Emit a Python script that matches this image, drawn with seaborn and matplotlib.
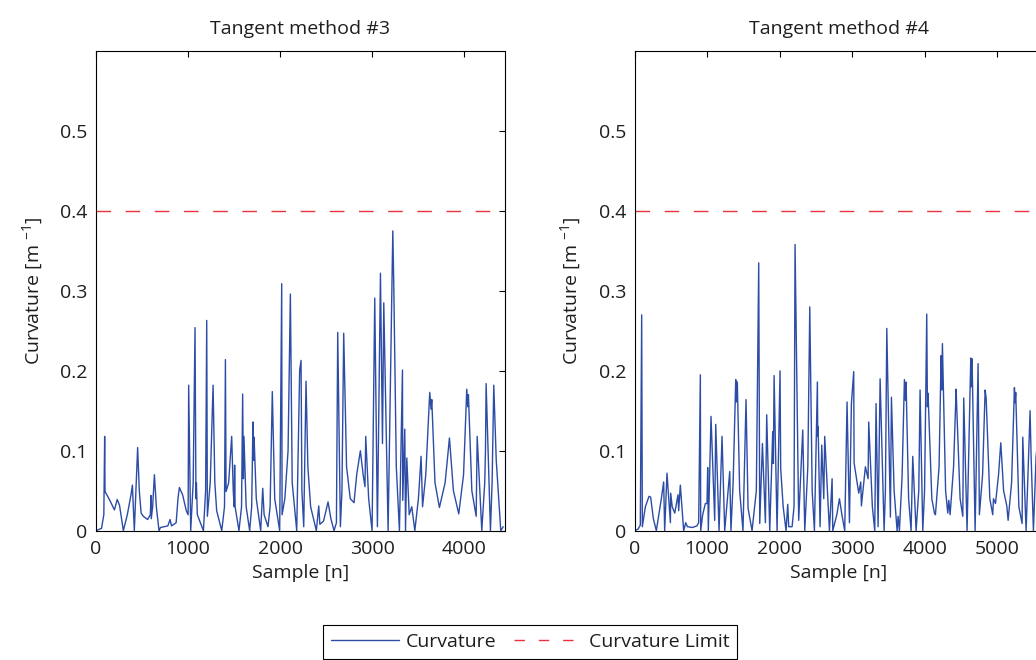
import matplotlib
matplotlib.use("Agg")
import matplotlib.pyplot as plt
from matplotlib.lines import Line2D
import numpy as np
import pandas as pd
import seaborn as sns

# ---------------- data ----------------
titles = ["Tangent method #3", "Tangent method #4"]
legend_labels = ["Curvature", "Curvature Limit"]
curvature_limit = 0.4
y_ticks = [0, 0.1, 0.2, 0.3, 0.4, 0.5]
x_limits = [4440, 5640]

m3_sample = [0, 60, 85, 94, 98, 150, 200, 230, 255, 297, 340, 380, 395, 416, 430, 452, 470, 490, 514, 560,
             590, 597, 600, 615, 634, 655, 684, 700, 780, 804, 820, 870, 890, 905, 940, 980, 1000, 1006, 1028,
             1055, 1075, 1085, 1090, 1100, 1166, 1190, 1202, 1209, 1240, 1271, 1290, 1310, 1365, 1395, 1405,
             1412, 1440, 1473, 1490, 1500, 1505, 1510, 1552, 1580, 1592, 1600, 1606, 1630, 1668, 1690, 1704,
             1710, 1716, 1740, 1788, 1810, 1825, 1867, 1890, 1914, 1940, 1994, 2016, 2020, 2050, 2085, 2110,
             2130, 2179, 2211, 2226, 2235, 2255, 2280, 2300, 2330, 2392, 2418, 2430, 2470, 2519, 2550, 2584,
             2610, 2624, 2653, 2670, 2689, 2720, 2760, 2801, 2830, 2870, 2900, 2920, 2928, 2960, 2997, 3026,
             3055, 3088, 3110, 3124, 3171, 3222, 3232, 3260, 3294, 3327, 3330, 3352, 3360, 3374, 3400, 3428,
             3461, 3500, 3529, 3545, 3580, 3623, 3637, 3645, 3680, 3728, 3790, 3837, 3880, 3938, 3990, 4025,
             4036, 4043, 4080, 4127, 4138, 4188, 4220, 4228, 4235, 4282, 4300, 4318, 4345, 4394, 4420]
m3_curv = [0, 0.003, 0.02, 0.118, 0.049, 0.038, 0.026, 0.039, 0.032, 0, 0.02, 0.045, 0.057, 0, 0.04, 0.104,
           0.05, 0.022, 0.018, 0.014, 0.02, 0.044, 0.015, 0.03, 0.07, 0.03, 0, 0.004, 0.006, 0.014, 0.006,
           0.01, 0.04, 0.054, 0.045, 0.025, 0.02, 0.182, 0, 0.06, 0.254, 0.04, 0.06, 0.02, 0, 0.05, 0.263,
           0.018, 0.06, 0.182, 0.06, 0.025, 0, 0.03, 0.214, 0.049, 0.06, 0.118, 0.05, 0.03, 0.082, 0.03, 0,
           0.03, 0.171, 0.065, 0.118, 0.03, 0, 0.03, 0.136, 0.088, 0.117, 0.04, 0, 0.053, 0.02, 0.005, 0.03,
           0.174, 0.04, 0, 0.309, 0.02, 0.04, 0.1, 0.296, 0.06, 0, 0.201, 0.213, 0.05, 0.005, 0.187, 0.08,
           0.03, 0, 0.031, 0.008, 0.012, 0.036, 0.015, 0, 0.01, 0.248, 0.005, 0.05, 0.247, 0.08, 0.04, 0.035,
           0.07, 0.1, 0.07, 0.055, 0.118, 0.04, 0, 0.291, 0.005, 0.322, 0.109, 0.285, 0, 0.375, 0.312, 0.08,
           0, 0.201, 0.038, 0.127, 0, 0.091, 0.02, 0.03, 0, 0.04, 0.093, 0.03, 0.07, 0.173, 0.152, 0.164,
           0.06, 0.029, 0.06, 0.116, 0.05, 0.021, 0.07, 0.177, 0.155, 0.17, 0.05, 0.018, 0.118, 0, 0.06, 0.1,
           0.184, 0, 0.06, 0.182, 0.088, 0, 0.005]

m4_sample = [0, 50, 80, 99, 108, 150, 200, 223, 260, 301, 370, 402, 416, 448, 480, 495, 499, 520, 555, 600,
             609, 632, 678, 706, 730, 800, 860, 885, 908, 913, 940, 977, 1000, 1009, 1018, 1055, 1106, 1120,
             1166, 1207, 1244, 1313, 1330, 1360, 1396, 1405, 1418, 1450, 1496, 1538, 1566, 1621, 1680, 1713,
             1727, 1764, 1805, 1823, 1865, 1906, 1915, 1925, 1966, 2007, 2016, 2050, 2090, 2113, 2127, 2173,
             2200, 2214, 2264, 2320, 2348, 2390, 2417, 2450, 2481, 2522, 2527, 2532, 2559, 2582, 2610, 2623,
             2688, 2725, 2734, 2790, 2826, 2860, 2899, 2931, 2964, 2991, 3023, 3028, 3092, 3120, 3129, 3184,
             3221, 3230, 3280, 3313, 3331, 3359, 3387, 3442, 3460, 3479, 3529, 3543, 3580, 3621, 3635, 3653,
             3690, 3722, 3736, 3745, 3780, 3814, 3837, 3883, 3920, 3938, 3975, 4000, 4030, 4039, 4048, 4100,
             4136, 4150, 4200, 4228, 4237, 4246, 4290, 4320, 4334, 4352, 4400, 4435, 4444, 4490, 4527, 4540,
             4586, 4637, 4646, 4655, 4697, 4738, 4756, 4800, 4835, 4849, 4900, 4940, 4950, 4978, 5020, 5051,
             5090, 5134, 5152, 5200, 5239, 5248, 5257, 5300, 5345, 5354, 5400, 5455, 5469, 5501, 5538, 5570,
             5600, 5640]
m4_curv = [0, 0.002, 0.007, 0.27, 0.005, 0.03, 0.043, 0.042, 0.015, 0, 0.04, 0.061, 0, 0.072, 0.03, 0.01,
           0.047, 0.03, 0.022, 0.045, 0.025, 0.057, 0, 0.01, 0.005, 0.004, 0.006, 0.01, 0.195, 0, 0.02, 0.034,
           0.034, 0.079, 0, 0.143, 0.013, 0.133, 0, 0.118, 0, 0.074, 0, 0.06, 0.189, 0.161, 0.186, 0.05, 0,
           0.164, 0.028, 0, 0.05, 0.335, 0.009, 0.109, 0.01, 0.145, 0, 0.124, 0.084, 0.194, 0, 0.2, 0.078,
           0.03, 0, 0.033, 0.005, 0.005, 0.03, 0.358, 0.013, 0.126, 0, 0.08, 0.28, 0.05, 0, 0.186, 0.118,
           0.13, 0.005, 0.107, 0.04, 0.118, 0, 0.065, 0, 0.02, 0.04, 0.02, 0, 0.161, 0.01, 0.159, 0.199,
           0.085, 0.047, 0.061, 0.031, 0.08, 0.065, 0.136, 0.03, 0, 0.159, 0.005, 0.19, 0, 0.05, 0.253, 0.017,
           0.167, 0.05, 0, 0.018, 0, 0.068, 0.189, 0.163, 0.186, 0.04, 0, 0.093, 0, 0.05, 0.176, 0, 0.05,
           0.271, 0.155, 0.172, 0.04, 0.022, 0.02, 0.08, 0.219, 0.176, 0.234, 0.05, 0.022, 0.038, 0.02, 0.08,
           0.177, 0.153, 0.04, 0.018, 0.166, 0, 0.216, 0.18, 0.215, 0, 0.209, 0.02, 0.07, 0.176, 0.166, 0.04,
           0.02, 0.04, 0.034, 0.07, 0.11, 0.05, 0.031, 0.013, 0.06, 0.179, 0.16, 0.173, 0.03, 0.009, 0.117, 0,
           0.15, 0.093, 0, 0.093, 0.12, 0.05, 0.01]

# ---------------- style ----------------
BLUE = "#2c4ca6"
RED = "#e8323c"
TEXT = "#1e1e1e"

sns.set_theme(style="white")
plt.rcParams.update({
    "font.family": ["Open Sans", "DejaVu Sans"],
    "font.size": 14,
    "mathtext.fontset": "custom",
    "mathtext.rm": "Open Sans",
    "mathtext.it": "Open Sans:italic",
    "mathtext.bf": "Open Sans:bold",
    "axes.edgecolor": "black",
    "axes.linewidth": 0.8,
    "xtick.direction": "in",
    "ytick.direction": "in",
    "text.color": TEXT,
    "axes.labelcolor": TEXT,
    "xtick.color": "black",
    "ytick.color": "black",
})

W, H = 1036, 660
fig = plt.figure(figsize=(W / 100, H / 100), dpi=100)
bottom = 1 - 530.7 / H
height = 479.7 / H
width = 409 / W
ax1 = fig.add_axes([96 / W, bottom, width, height])
ax2 = fig.add_axes([634.5 / W, bottom, width, height])

series = [(m3_sample, m3_curv), (m4_sample, m4_curv)]
for ax, (s, c), title, xmax in zip([ax1, ax2], series, titles, x_limits):
    df = pd.DataFrame({"Sample": s, "Curvature": c})
    sns.lineplot(data=df, x="Sample", y="Curvature", ax=ax, color=BLUE, lw=1.0,
                 estimator=None, sort=False, legend=False)
    ax.axhline(curvature_limit, color=RED, lw=1.0, linestyle=(0, (10.5, 10.5)))
    ax.set_xlim(0, xmax)
    ax.set_ylim(0, 0.6)
    ax.set_xticks(np.arange(0, xmax, 1000))
    ax.set_yticks(y_ticks)
    ax.set_yticklabels([f"{v:g}" for v in y_ticks])
    ax.tick_params(axis="both", which="both", top=True, right=True, length=4.5, width=0.8,
                   labelsize=14, labelcolor=TEXT)
    ax.tick_params(axis="x", pad=7)
    ax.tick_params(axis="y", pad=6)
    ax.set_xlabel("Sample [n]", fontsize=14, labelpad=4)
    ax.set_ylabel("Curvature [m $^{-1}$]", fontsize=14)
    ax.yaxis.set_label_coords(-0.125, 0.5)
    ax.set_title(title, fontsize=14, pad=12)
    for sp in ax.spines.values():
        sp.set_visible(True)
        sp.set_color("black")
        sp.set_linewidth(0.8)

handles = [Line2D([], [], color=BLUE, lw=1.0),
           Line2D([], [], color=RED, lw=1.0, linestyle=(0, (7.5, 10)))]
leg = fig.legend(handles=handles, labels=legend_labels, loc="upper center",
                 bbox_to_anchor=(530 / W, 1 - 625 / H), ncol=2, frameon=True, fancybox=False,
                 edgecolor="black", framealpha=1, handlelength=3.5, handletextpad=0.35,
                 columnspacing=0.9, borderpad=0.4, borderaxespad=0.0, fontsize=14)
leg.get_frame().set_linewidth(0.8)

fig.savefig("out.png", dpi=100)
